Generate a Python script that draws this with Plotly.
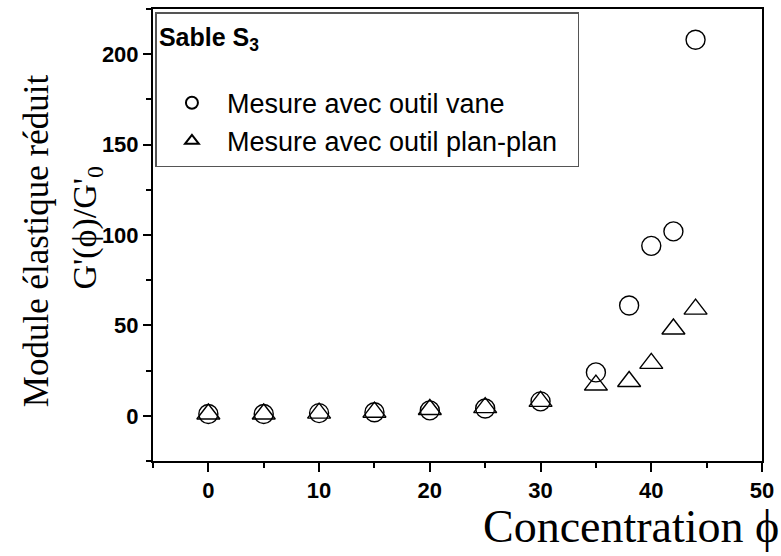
import plotly.graph_objects as go

conc_vane = [0, 5, 10, 15, 20, 25, 30, 35, 38, 40, 42, 44]
g_vane = [1, 1, 1.5, 2, 3, 4, 8, 24, 61, 94, 102, 208]
conc_plan = [0, 5, 10, 15, 20, 25, 30, 35, 38, 40, 42, 44]
g_plan = [1, 1, 1.5, 2, 3.5, 4.5, 8, 17, 19, 29, 48, 59]

x_ticks = [0, 10, 20, 30, 40, 50]
y_ticks = [0, 50, 100, 150, 200]

fig = go.Figure()
fig.add_trace(go.Scatter(
    x=conc_vane, y=g_vane, mode="markers", name="Mesure avec outil vane",
    marker=dict(symbol="circle-open", size=19, color="black", line=dict(width=1.4, color="black"))))
fig.add_trace(go.Scatter(
    x=conc_plan, y=g_plan, mode="markers", name="Mesure avec outil plan-plan&nbsp;&nbsp;",
    marker=dict(symbol="triangle-up-open", size=20, color="black", line=dict(width=1.4, color="black"))))

fig.update_layout(
    width=781, height=556,
    margin=dict(l=153, r=15, t=7, b=95),
    plot_bgcolor="white", paper_bgcolor="white",
    showlegend=True,
    legend=dict(
        title=dict(text="<b>Sable S<sub>3</sub></b><br> ", font=dict(family="Liberation Sans", size=25, color="black")),
        font=dict(family="Liberation Sans", size=27, color="black"),
        x=0.004, y=0.993, xanchor="left", yanchor="top",
        bordercolor="#555", borderwidth=1.5, bgcolor="white",
        itemsizing="constant", tracegroupgap=0, itemwidth=60,
    ),
    xaxis=dict(
        range=[-5, 50], tickmode="array", tickvals=x_ticks, ticktext=[str(v) for v in x_ticks],
        showgrid=False, zeroline=False, showline=True, linecolor="black", linewidth=2, mirror=True,
        ticks="outside", ticklen=9, tickwidth=1.5, tickcolor="black",
        minor=dict(tickvals=[-5, 5, 15, 25, 35, 45], ticks="outside", ticklen=5, tickwidth=1.5, tickcolor="black"),
        tickfont=dict(family="Liberation Sans", size=22, color="black", weight="bold"),
    ),
    yaxis=dict(
        range=[-25, 225], tickmode="array", tickvals=y_ticks, ticktext=[str(v) for v in y_ticks],
        showgrid=False, zeroline=False, showline=True, linecolor="black", linewidth=2, mirror=True,
        ticks="outside", ticklen=8, tickwidth=1.5, tickcolor="black",
        minor=dict(tickvals=[-25, 25, 75, 125, 175, 225], ticks="outside", ticklen=5, tickwidth=1.5, tickcolor="black"),
        tickfont=dict(family="Liberation Sans", size=22, color="black", weight="bold"),
    ),
    annotations=[
        dict(text="Module élastique réduit", xref="paper", yref="paper", x=-0.19, y=0.487,
             xanchor="center", yanchor="middle", textangle=-90, showarrow=False,
             font=dict(family="Liberation Serif", size=35, color="black")),
        dict(text="G'(ϕ)/G'<sub>0</sub>", xref="paper", yref="paper", x=-0.108, y=0.515,
             xanchor="center", yanchor="middle", textangle=-90, showarrow=False,
             font=dict(family="Liberation Serif", size=34, color="black")),
        dict(text="Concentration ϕ", xref="paper", yref="paper", x=1.03, y=-0.086,
             xanchor="right", yanchor="top", showarrow=False, borderpad=0,
             font=dict(family="Liberation Serif", size=46, color="black")),
    ],
)

fig.write_html("out.html", config={"displayModeBar": False},
               post_script="document.body.style.margin='0';document.body.style.overflow='hidden';")
